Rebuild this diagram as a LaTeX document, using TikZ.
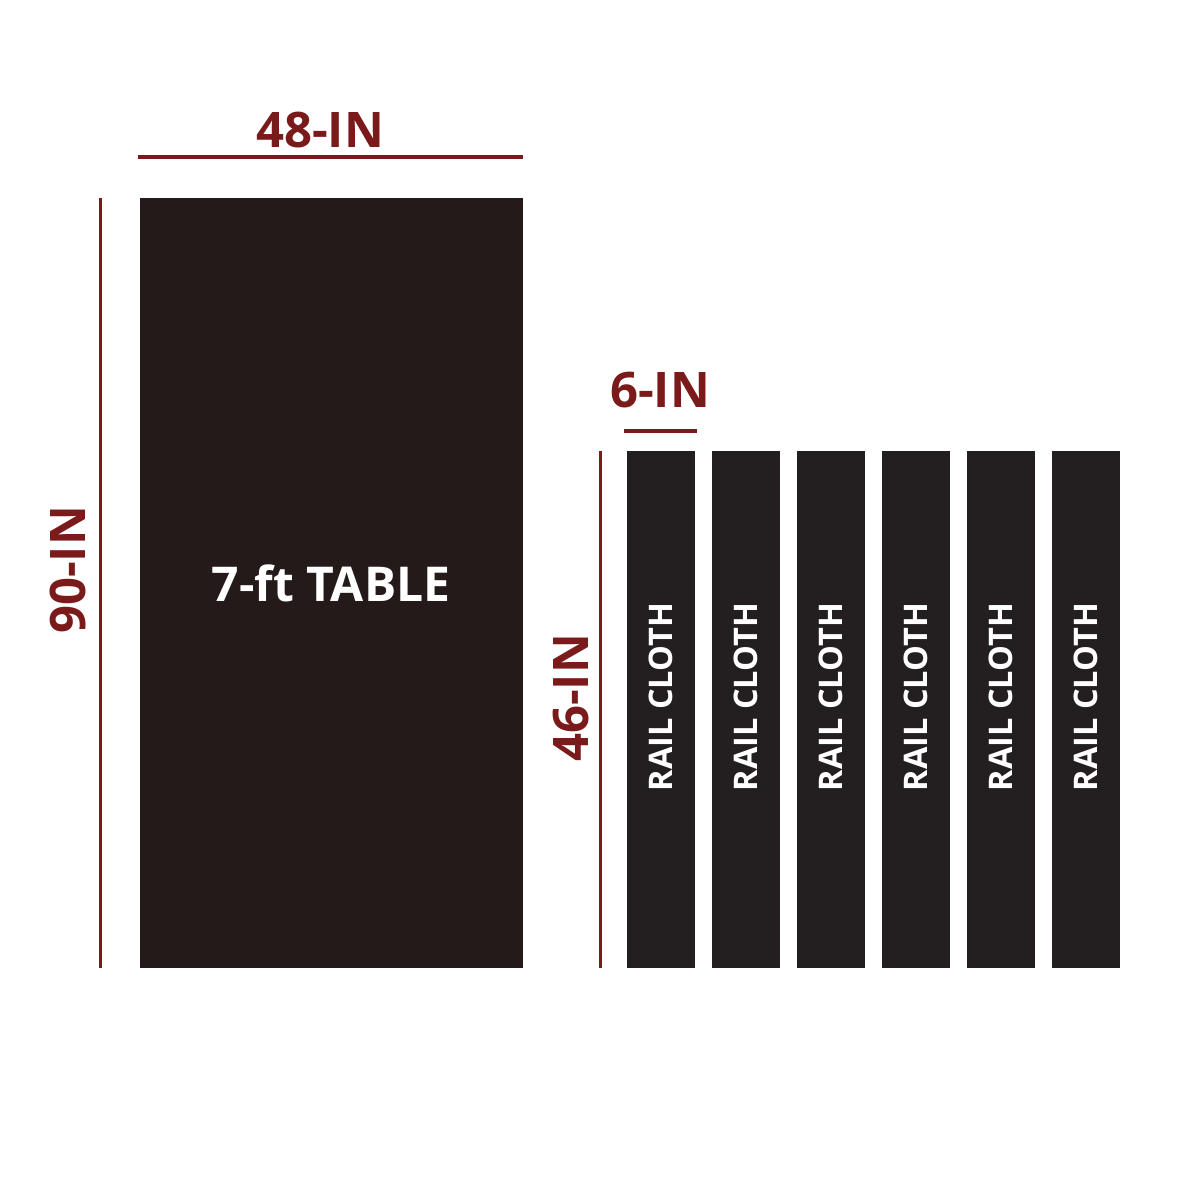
\documentclass[tikz,border=0pt]{standalone}
\usepackage{fontspec}
\setmainfont{Open Sans}
\definecolor{dimred}{HTML}{7A1A1A}
\definecolor{tablecol}{HTML}{241A1A}
\definecolor{railcol}{HTML}{231F20}
\begin{document}
\begin{tikzpicture}[x=1pt,y=-1pt,
  dimline/.style={draw=dimred,line width=3.5pt},
  dimlabel/.style={text=dimred,font=\fontsize{49}{49}\selectfont\bfseries,inner sep=0pt},
  rail/.style={fill=railcol,draw=none},
  railtext/.style={text=white,font=\fontsize{32.5}{32.5}\selectfont\bfseries,rotate=90,inner sep=0pt}]
\useasboundingbox[fill=white] (0,0) rectangle (1200,1200);
% table
\fill[tablecol] (140,198) rectangle (523,968);
\node[text=white,font=\fontsize{48}{48}\selectfont\bfseries,inner sep=0pt] (tbl) at (331,583) {7-ft TABLE};
% 48-IN
\coordinate (w1) at (138,157);
\coordinate (w2) at (523,157);
\draw[dimline] (w1) -- (w2);
\node[dimlabel] (w) at (320,130) {48-IN};
% 90-IN
\coordinate (h1) at (100,198);
\coordinate (h2) at (100,968);
\draw[dimline,line width=3pt] (h1) -- (h2);
\node[dimlabel,rotate=90] (h) at (68,570) {90-IN};
% rails
\foreach \x [count=\i] in {627,712,797,882,967,1052}{
  \fill[railcol] (\x,451) rectangle ++(68,517);
  \node[railtext] (r\i) at (\x+34,697) {RAIL CLOTH};
}
% 6-IN
\coordinate (s1) at (624,431);
\coordinate (s2) at (697,431);
\draw[dimline] (s1) -- (s2);
\node[dimlabel] (s) at (660,390) {6-IN};
% 46-IN
\coordinate (v1) at (600,451);
\coordinate (v2) at (600,968);
\draw[dimline,line width=3pt] (v1) -- (v2);
\node[dimlabel,rotate=90] (v) at (571,698) {46-IN};
\end{tikzpicture}
\end{document}
